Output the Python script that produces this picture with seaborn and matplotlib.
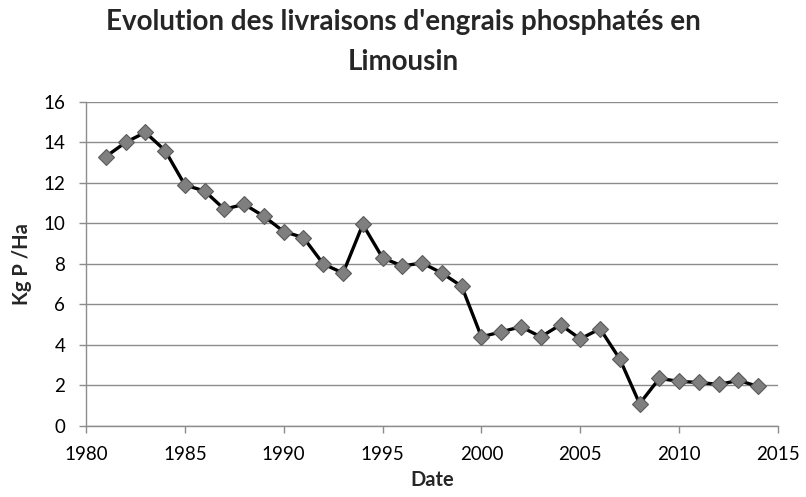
import matplotlib
matplotlib.use("Agg")
import matplotlib.pyplot as plt
import seaborn as sns
import pandas as pd

years = list(range(1981, 2015))
values = [13.3, 14.0, 14.5, 13.6, 11.9, 11.6, 10.7, 10.95, 10.35, 9.6,
          9.3, 8.0, 7.55, 9.95, 8.3, 7.9, 8.05, 7.55, 6.9, 4.4,
          4.65, 4.9, 4.4, 5.0, 4.3, 4.8, 3.3, 1.1, 2.35, 2.2,
          2.15, 2.05, 2.25, 1.95]
x_ticks = [1980, 1985, 1990, 1995, 2000, 2005, 2010, 2015]
y_ticks = [0, 2, 4, 6, 8, 10, 12, 14, 16]

sns.set_theme(style="white")
plt.rcParams['font.family'] = ['Lato', 'DejaVu Sans']

df = pd.DataFrame({"Date": years, "Kg P /Ha": values})

fig = plt.figure(figsize=(8.06, 4.97), dpi=100)
ax = fig.add_axes([0.1067, 0.1429, 0.8586, 0.652])
sns.lineplot(data=df, x="Date", y="Kg P /Ha", ax=ax, color="black", linewidth=2.4,
             marker="D", markersize=8.5, markerfacecolor="#7f7f7f",
             markeredgecolor="#5a5a5a", markeredgewidth=0.8)

ax.set_xlim(1980, 2015)
ax.set_ylim(0, 16)
ax.set_xticks(x_ticks)
ax.set_yticks(y_ticks)
ax.yaxis.grid(True, color="#8c8c8c", linewidth=1.0)
ax.set_axisbelow(True)
for s in ["top", "right"]:
    ax.spines[s].set_visible(False)
for s in ["left", "bottom"]:
    ax.spines[s].set_color("#8c8c8c")
    ax.spines[s].set_linewidth(1.0)
ax.tick_params(axis="both", which="major", labelsize=13.5, colors="#8c8c8c",
               labelcolor="black", length=5, width=1.0, direction="out",
               bottom=True, left=True)
ax.tick_params(axis="x", pad=9.5)
ax.tick_params(axis="y", pad=10)
ax.set_xlabel("Date", fontsize=14.5, fontweight="bold", labelpad=5)
ax.set_ylabel("Kg P /Ha", fontsize=14.5, fontweight="bold", labelpad=8)
fig.suptitle("Evolution des livraisons d'engrais phosphatés en\nLimousin",
             fontsize=20, fontweight="bold", y=0.982, va="top", linespacing=1.65)

fig.savefig("out.png", dpi=100, facecolor="white")
